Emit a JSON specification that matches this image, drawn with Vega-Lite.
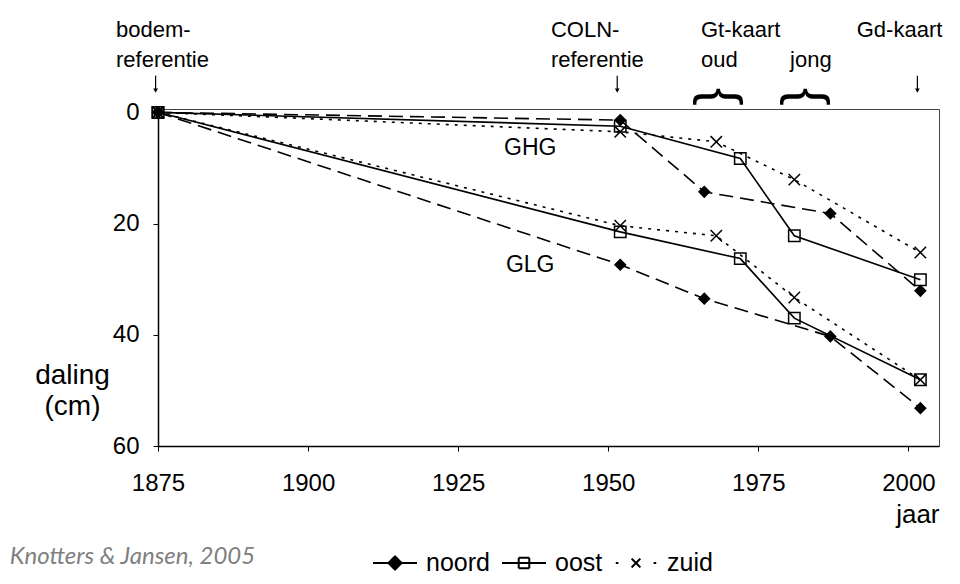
{
  "$schema": "https://vega.github.io/schema/vega-lite/v6.json",
  "width": 781,
  "height": 337,
  "autosize": {"type": "none"},
  "padding": {"left": 158, "top": 109, "right": 21, "bottom": 138},
  "background": "white",
  "config": {"view": {"stroke": "#444", "strokeWidth": 1}, "font": "Liberation Sans"},
  "datasets": {
    "metingen": [
      {"reeks": "noord", "niveau": "GHG", "jaar": 1875, "daling": 0},
      {"reeks": "noord", "niveau": "GHG", "jaar": 1952, "daling": 1.4},
      {"reeks": "noord", "niveau": "GHG", "jaar": 1966, "daling": 14.3},
      {"reeks": "noord", "niveau": "GHG", "jaar": 1987, "daling": 18.2},
      {"reeks": "noord", "niveau": "GHG", "jaar": 2002, "daling": 32.1},
      {"reeks": "noord", "niveau": "GLG", "jaar": 1875, "daling": 0},
      {"reeks": "noord", "niveau": "GLG", "jaar": 1952, "daling": 27.4},
      {"reeks": "noord", "niveau": "GLG", "jaar": 1966, "daling": 33.5},
      {"reeks": "noord", "niveau": "GLG", "jaar": 1987, "daling": 40.3},
      {"reeks": "noord", "niveau": "GLG", "jaar": 2002, "daling": 53.2},
      {"reeks": "oost", "niveau": "GHG", "jaar": 1875, "daling": 0},
      {"reeks": "oost", "niveau": "GHG", "jaar": 1952, "daling": 2.5},
      {"reeks": "oost", "niveau": "GHG", "jaar": 1972, "daling": 8.3},
      {"reeks": "oost", "niveau": "GHG", "jaar": 1981, "daling": 22.2},
      {"reeks": "oost", "niveau": "GHG", "jaar": 2002, "daling": 30.1},
      {"reeks": "oost", "niveau": "GLG", "jaar": 1875, "daling": 0},
      {"reeks": "oost", "niveau": "GLG", "jaar": 1952, "daling": 21.5},
      {"reeks": "oost", "niveau": "GLG", "jaar": 1972, "daling": 26.3},
      {"reeks": "oost", "niveau": "GLG", "jaar": 1981, "daling": 37.0},
      {"reeks": "oost", "niveau": "GLG", "jaar": 2002, "daling": 48.1},
      {"reeks": "zuid", "niveau": "GHG", "jaar": 1875, "daling": 0},
      {"reeks": "zuid", "niveau": "GHG", "jaar": 1952, "daling": 3.5},
      {"reeks": "zuid", "niveau": "GHG", "jaar": 1968, "daling": 5.3},
      {"reeks": "zuid", "niveau": "GHG", "jaar": 1981, "daling": 12.1},
      {"reeks": "zuid", "niveau": "GHG", "jaar": 2002, "daling": 25.2},
      {"reeks": "zuid", "niveau": "GLG", "jaar": 1875, "daling": 0},
      {"reeks": "zuid", "niveau": "GLG", "jaar": 1952, "daling": 20.4},
      {"reeks": "zuid", "niveau": "GLG", "jaar": 1968, "daling": 22.2},
      {"reeks": "zuid", "niveau": "GLG", "jaar": 1981, "daling": 33.3},
      {"reeks": "zuid", "niveau": "GLG", "jaar": 2002, "daling": 48.1}
    ],
    "kopjes": [
      {"jaar": 1868, "daling": -14.8, "tekst": "bodem-"},
      {"jaar": 1868, "daling": -9.4, "tekst": "referentie"},
      {"jaar": 1940.45, "daling": -14.8, "tekst": "COLN-"},
      {"jaar": 1940.45, "daling": -9.4, "tekst": "referentie"},
      {"jaar": 1965.45, "daling": -14.8, "tekst": "Gt-kaart"},
      {"jaar": 1965.45, "daling": -9.4, "tekst": "oud"},
      {"jaar": 1980.3, "daling": -9.4, "tekst": "jong"},
      {"jaar": 1991.4, "daling": -14.8, "tekst": "Gd-kaart"}
    ],
    "pijlen": [
      {"jaar": 1874.6, "van": -6.6, "tot": -3.9},
      {"jaar": 1951.5, "van": -6.6, "tot": -3.9},
      {"jaar": 2001.5, "van": -6.6, "tot": -3.9}
    ],
    "accolades": [
      {"jaar": 1968.6, "daling": -2.8, "tekst": "{"},
      {"jaar": 1983.1, "daling": -2.8, "tekst": "{"}
    ],
    "niveaus": [
      {"jaar": 1937, "daling": 6.4, "tekst": "GHG"},
      {"jaar": 1937, "daling": 27.5, "tekst": "GLG"}
    ],
    "bron": [
      {"jaar": 1850.3, "daling": 80.0, "tekst": "Knotters & Jansen, 2005"}
    ]
  },
  "encoding": {
    "x": {
      "field": "jaar", "type": "quantitative",
      "scale": {"domain": [1875, 2005.1], "nice": false, "zero": false},
      "axis": {
        "values": [1875, 1900, 1925, 1950, 1975, 2000], "format": "d",
        "title": "jaar", "titleAnchor": "end", "titleAlign": "right",
        "titleFontSize": 26, "titleFontWeight": "normal", "titleColor": "black", "titlePadding": 6,
        "labelFontSize": 24, "labelColor": "black", "labelPadding": 20, "labelFlush": false,
        "tickSize": 5, "tickColor": "black", "domainColor": "black", "domainWidth": 1.5, "grid": false
      }
    },
    "y": {
      "field": "daling", "type": "quantitative",
      "scale": {"domain": [-0.6, 60], "reverse": true, "nice": false, "zero": false},
      "axis": {
        "values": [0, 20, 40, 60],
        "title": ["daling", "(cm)"], "titleAngle": 0, "titleX": -86, "titleY": 274,
        "titleAlign": "center", "titleBaseline": "alphabetic", "titleFontSize": 28,
        "titleFontWeight": "normal", "titleLineHeight": 31, "titleColor": "black",
        "labelFontSize": 24, "labelColor": "black", "labelPadding": 14,
        "tickSize": 5, "tickColor": "black", "domainColor": "black", "domainWidth": 1.5, "grid": false
      }
    }
  },
  "layer": [
    {
      "data": {"name": "metingen"},
      "transform": [{"filter": "datum.jaar === 1875"}],
      "mark": {"type": "line", "strokeWidth": 2, "color": "black"},
      "encoding": {
        "detail": {"field": "niveau", "type": "nominal"},
        "strokeDash": {
          "field": "reeks", "type": "nominal",
          "scale": {"domain": ["noord", "oost", "zuid"], "range": [[1, 0], [1, 0], [1, 0]]},
          "legend": {
            "orient": "none", "legendX": 214, "legendY": 431, "direction": "horizontal",
            "title": null, "padding": 0,
            "symbolSize": 1936, "symbolStrokeWidth": 2, "symbolStrokeColor": "black",
            "labelFontSize": 25, "labelColor": "black", "labelOffset": 8, "columnPadding": 8
          }
        }
      }
    },
    {
      "data": {"name": "metingen"},
      "transform": [{"filter": "datum.jaar === 1875"}],
      "mark": {"type": "point", "size": 16, "stroke": "black", "strokeWidth": 1.5, "opacity": 1},
      "encoding": {
        "shape": {
          "field": "reeks", "type": "nominal", "legend": null,
          "scale": {"domain": ["noord", "oost", "zuid"], "range": ["M-1,0H1M-0.3,0L0,-0.3L0.3,0L0,0.3Z", "M-1,0H1M-0.24,-0.24H0.24M0.24,-0.24V0.24M0.24,0.24H-0.24M-0.24,0.24V-0.24", "M-0.92,0H-0.8M-0.2,-0.2L0.2,0.2M-0.2,0.2L0.2,-0.2M0.8,0H0.92"]}
        },
        "fill": {
          "field": "reeks", "type": "nominal", "legend": null,
          "scale": {"domain": ["noord", "oost", "zuid"], "range": ["black", "transparent", "transparent"]}
        }
      }
    },
    {
      "data": {"name": "metingen"},
      "transform": [{"filter": "datum.reeks === 'noord'"}],
      "mark": {"type": "line", "strokeWidth": 1.6, "color": "black", "strokeDash": [14, 7]},
      "encoding": {"detail": {"field": "niveau", "type": "nominal"}}
    },
    {
      "data": {"name": "metingen"},
      "transform": [{"filter": "datum.reeks === 'oost'"}],
      "mark": {"type": "line", "strokeWidth": 1.6, "color": "black"},
      "encoding": {"detail": {"field": "niveau", "type": "nominal"}}
    },
    {
      "data": {"name": "metingen"},
      "transform": [{"filter": "datum.reeks === 'zuid'"}],
      "mark": {"type": "line", "strokeWidth": 1.6, "color": "black", "strokeDash": [3, 6]},
      "encoding": {"detail": {"field": "niveau", "type": "nominal"}}
    },
    {
      "data": {"name": "metingen"},
      "transform": [{"filter": "datum.reeks === 'noord'"}],
      "mark": {"type": "point", "shape": "diamond", "size": 160, "filled": true, "color": "black", "opacity": 1}
    },
    {
      "data": {"name": "metingen"},
      "transform": [{"filter": "datum.reeks === 'oost'"}],
      "mark": {"type": "point", "shape": "square", "size": 130, "filled": false, "stroke": "black", "fill": "transparent", "strokeWidth": 1.5, "opacity": 1}
    },
    {
      "data": {"name": "metingen"},
      "transform": [{"filter": "datum.reeks === 'zuid'"}],
      "mark": {"type": "point", "shape": "M-1,-1L1,1M-1,1L1,-1", "size": 130, "filled": false, "stroke": "black", "strokeWidth": 1.5, "opacity": 1}
    },
    {
      "data": {"name": "kopjes"},
      "mark": {"type": "text", "align": "left", "baseline": "middle", "fontSize": 22, "color": "black"},
      "encoding": {"text": {"field": "tekst"}}
    },
    {
      "data": {"name": "pijlen"},
      "mark": {"type": "rule", "strokeWidth": 1.2, "color": "black"},
      "encoding": {"y": {"field": "van", "type": "quantitative"}, "y2": {"field": "tot"}}
    },
    {
      "data": {"name": "pijlen"},
      "mark": {"type": "point", "shape": "triangle-down", "size": 22, "filled": true, "color": "black", "opacity": 1},
      "encoding": {"y": {"field": "tot", "type": "quantitative"}}
    },
    {
      "data": {"name": "accolades"},
      "mark": {"type": "text", "align": "center", "baseline": "middle", "fontSize": 54, "angle": 90, "color": "black"},
      "encoding": {"text": {"field": "tekst"}}
    },
    {
      "data": {"name": "niveaus"},
      "mark": {"type": "text", "align": "center", "baseline": "middle", "fontSize": 23, "color": "black"},
      "encoding": {"text": {"field": "tekst"}}
    },
    {
      "data": {"name": "bron"},
      "mark": {"type": "text", "align": "left", "baseline": "middle", "fontSize": 24, "font": "Lato", "fontStyle": "italic", "color": "#808080"},
      "encoding": {"text": {"field": "tekst"}}
    }
  ]
}
